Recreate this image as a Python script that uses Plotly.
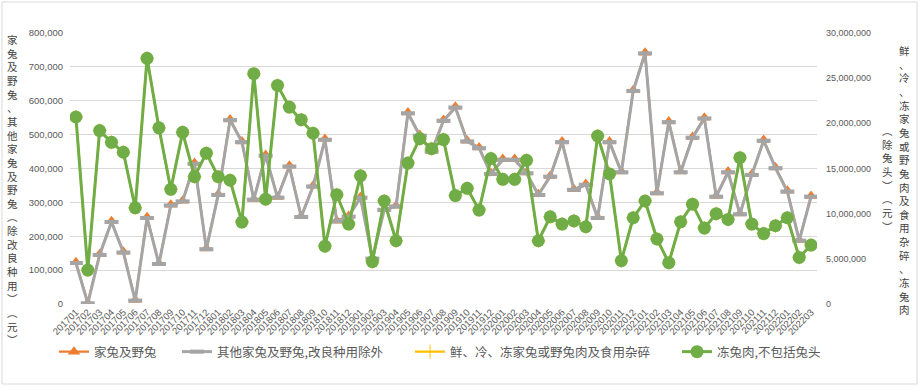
import plotly.graph_objects as go

# ---------------- data ----------------
months = [f"{y}{m:02d}" for y in range(2017, 2023) for m in range(1, 13)][:63]

rabbits_total = [  # 家兔及野兔 (元)
    123000, 4000, 147000, 244000, 154000, 12000, 256000, 120000, 293000, 305000,
    416000, 164000, 324000, 545000, 480000, 310000, 440000, 316000, 408000, 259000,
    349000, 487000, 246000, 260000, 316000, 136000, 280000, 290000, 565000, 499000,
    452000, 543000, 582000, 482000, 462000, 386000, 428000, 428000, 388000, 324000,
    378000, 480000, 339000, 354000, 256000, 480000, 391000, 631000, 742000, 329000,
    539000, 391000, 493000, 550000, 319000, 391000, 267000, 383000, 484000, 403000,
    334000, 189000, 319000]

rabbits_other = [  # 其他家兔及野兔,改良种用除外 (元)
    121000, 2000, 145000, 242000, 152000, 10000, 254000, 118000, 291000, 303000,
    414000, 162000, 322000, 543000, 478000, 308000, 438000, 314000, 406000, 257000,
    347000, 485000, 244000, 258000, 314000, 134000, 278000, 288000, 563000, 497000,
    450000, 541000, 580000, 480000, 460000, 384000, 426000, 426000, 386000, 322000,
    376000, 478000, 337000, 352000, 254000, 478000, 389000, 629000, 740000, 327000,
    537000, 389000, 491000, 548000, 317000, 389000, 265000, 381000, 482000, 401000,
    332000, 187000, 317000]

meat_offal = [  # 鲜、冷、冻家兔或野兔肉及食用杂碎 (元)
    20700000, 3760000, 19200000, 17900000, 16800000, 10650000, 27200000, 19500000, 12700000, 19000000,
    14100000, 16700000, 14100000, 13700000, 9070000, 25500000, 11600000, 24200000, 21800000, 20400000,
    18900000, 6400000, 12100000, 8850000, 14200000, 4680000, 11400000, 7000000, 15600000, 18300000,
    17200000, 18200000, 12000000, 12800000, 10400000, 16100000, 13800000, 13800000, 15900000, 7000000,
    9650000, 8850000, 9200000, 8550000, 18600000, 14400000, 4800000, 9550000, 11400000, 7200000,
    4570000, 9100000, 11050000, 8400000, 10000000, 9360000, 16200000, 8850000, 7800000, 8660000,
    9550000, 5160000, 6520000]

frozen_meat = [  # 冻兔肉,不包括兔头 (元)
    20700000, 3760000, 19200000, 17900000, 16800000, 10650000, 27200000, 19500000, 12700000, 19000000,
    14100000, 16700000, 14100000, 13700000, 9070000, 25500000, 11600000, 24200000, 21800000, 20400000,
    18900000, 6400000, 12100000, 8850000, 14200000, 4680000, 11400000, 7000000, 15600000, 18300000,
    17200000, 18200000, 12000000, 12800000, 10400000, 16100000, 13800000, 13800000, 15900000, 7000000,
    9650000, 8850000, 9200000, 8550000, 18600000, 14400000, 4800000, 9550000, 11400000, 7200000,
    4570000, 9100000, 11050000, 8400000, 10000000, 9360000, 16200000, 8850000, 7800000, 8660000,
    9550000, 5160000, 6520000]

left_ticks = list(range(0, 800001, 100000))
right_ticks = list(range(0, 30000001, 5000000))

names = ["家兔及野兔", "其他家兔及野兔,改良种用除外", "鲜、冷、冻家兔或野兔肉及食用杂碎", "冻兔肉,不包括兔头"]
left_title = "家兔及野兔、其他家兔及野兔︵除改良种用︶︵元︶"
right_title_col1 = "鲜、冷、冻家兔或野兔肉及食用杂碎、冻兔肉"
right_title_col2 = "︵除兔头︶︵元︶"

# ---------------- layout geometry ----------------
W, H = 920, 387
L, R, T, B = 70, 817, 33, 304
pw, ph = R - L, B - T


def px(x):
    return (x - L) / pw


def py(y):
    return (B - y) / ph


NUM_FONT = "Liberation Sans, Arial, sans-serif"
CJK_FONT = "Noto Sans CJK SC, sans-serif"
TXT = "#595959"

fig = go.Figure()
fig.add_trace(go.Scatter(
    x=months, y=rabbits_total, name=names[0], mode="lines+markers", legend="legend",
    line=dict(color="#ED7D31", width=2.25),
    marker=dict(symbol="triangle-up", size=11, color="#ED7D31")))
fig.add_trace(go.Scatter(
    x=months, y=rabbits_other, name=names[1], mode="lines+markers", legend="legend2",
    line=dict(color="#A5A5A5", width=3),
    marker=dict(symbol="line-ew-open", size=10, line=dict(color="#A5A5A5", width=4))))
fig.add_trace(go.Scatter(
    x=months, y=meat_offal, name=names[2], mode="lines+markers", yaxis="y2", legend="legend3",
    line=dict(color="#FFC000", width=2.25),
    marker=dict(symbol="cross-thin-open", size=10, line=dict(color="#FFC000", width=1))))
fig.add_trace(go.Scatter(
    x=months, y=frozen_meat, name=names[3], mode="lines+markers", yaxis="y2", legend="legend4",
    line=dict(color="#70AD47", width=3),
    marker=dict(symbol="circle", size=13, color="#70AD47")))

TITLE_FONT = dict(family=CJK_FONT, size=10.5, color="#404040")


def vertical(text):
    return "<br>".join(text)


anns = [
    dict(x=px(13), y=py(190), xref="paper", yref="paper", text=vertical(left_title),
         showarrow=False, xanchor="center", yanchor="middle", align="center", font=TITLE_FONT),
    dict(x=px(905), y=py(180), xref="paper", yref="paper", text=vertical(right_title_col1),
         showarrow=False, xanchor="center", yanchor="middle", align="center", font=TITLE_FONT),
    dict(x=px(887), y=py(178), xref="paper", yref="paper", text=vertical(right_title_col2),
         showarrow=False, xanchor="center", yanchor="middle", align="center", font=TITLE_FONT),
]

leg_common = dict(orientation="h", yanchor="middle", xanchor="left", y=py(352),
                  font=dict(family=CJK_FONT, size=12.5, color=TXT), itemwidth=30,
                  bgcolor="rgba(0,0,0,0)", tracegroupgap=0)

fig.update_layout(
    width=W, height=H,
    margin=dict(l=L, r=W - R, t=T, b=H - B, autoexpand=False),
    paper_bgcolor="white", plot_bgcolor="white",
    showlegend=True,
    legend=dict(x=px(54), **leg_common),
    legend2=dict(x=px(177), **leg_common),
    legend3=dict(x=px(410), **leg_common),
    legend4=dict(x=px(677), **leg_common),
    xaxis=dict(type="category", categoryorder="array", categoryarray=months,
               range=[-0.5, 62.5], tickangle=-45, showgrid=False, showline=False,
               ticks="", tickfont=dict(family=NUM_FONT, size=9.5, color=TXT), zeroline=False,
               automargin=False),
    yaxis=dict(range=[0, 800000], tickvals=left_ticks, tickformat=",", showgrid=True,
               gridcolor="#D9D9D9", gridwidth=1, zeroline=False, showline=False, ticks="",
               ticklabelstandoff=6, automargin=False,
               tickfont=dict(family=NUM_FONT, size=9.5, color=TXT)),
    yaxis2=dict(range=[0, 30000000], tickvals=right_ticks, tickformat=",", overlaying="y",
                side="right", showgrid=False, zeroline=False, showline=False, ticks="",
                ticklabelstandoff=8, automargin=False,
                tickfont=dict(family=NUM_FONT, size=9, color=TXT)),
    annotations=anns,
    shapes=[dict(type="rect", xref="paper", yref="paper", x0=px(2), x1=px(917), y0=py(384), y1=py(2),
                 line=dict(color="#D9D9D9", width=1), fillcolor="rgba(0,0,0,0)", layer="below")],
)

fig.write_html("out.html", config={"displayModeBar": False},
               post_script="document.body.style.margin='0';document.body.style.overflow='hidden';")
